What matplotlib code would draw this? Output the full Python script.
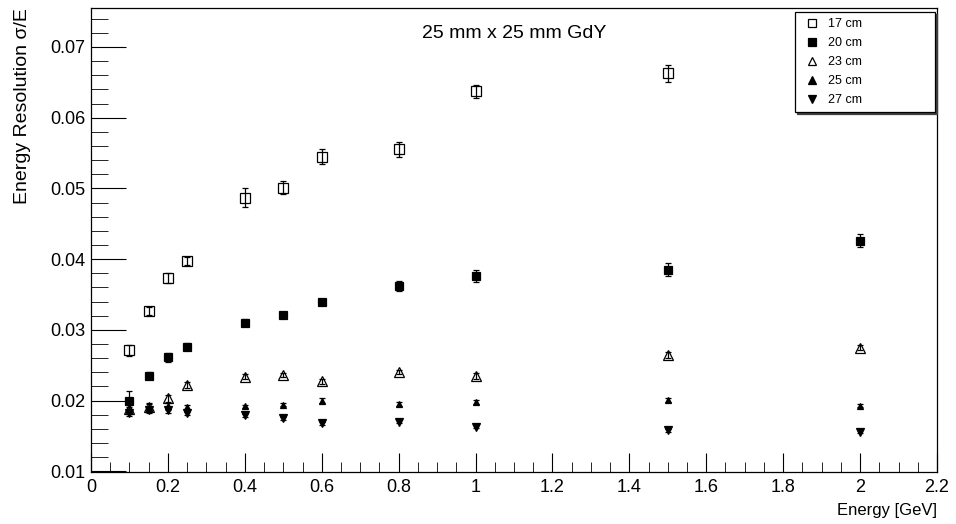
import numpy as np
import matplotlib.pyplot as plt
from matplotlib.ticker import MultipleLocator
from matplotlib.lines import Line2D

plt.rcParams['font.family'] = ['Liberation Sans', 'DejaVu Sans']

energy = [0.1, 0.15, 0.2, 0.25, 0.4, 0.5, 0.6, 0.8, 1.0, 1.5, 2.0]

res_17 = [0.0271, 0.0327, 0.0373, 0.0397, 0.0487, 0.0501, 0.0545, 0.0555, 0.0637, 0.0663]
err_17 = [0.0008, 0.0006, 0.0007, 0.0006, 0.0014, 0.0009, 0.0010, 0.0010, 0.0009, 0.0012]
res_20 = [0.0200, 0.0235, 0.0261, 0.0276, 0.0310, 0.0321, 0.0339, 0.0362, 0.0376, 0.0385, 0.0426]
err_20 = [0.0014, 0.0005, 0.0006, 0.0005, 0.0005, 0.0004, 0.0004, 0.0007, 0.0009, 0.0009, 0.0009]
res_23 = [0.0188, 0.0191, 0.0203, 0.0222, 0.0234, 0.0236, 0.0227, 0.0240, 0.0235, 0.0264, 0.0275]
err_23 = [0.0006, 0.0005, 0.0005, 0.0004, 0.0003, 0.0003, 0.0003, 0.0003, 0.0004, 0.0004, 0.0004]
res_25 = [0.0186, 0.0190, 0.0192, 0.0191, 0.0192, 0.0194, 0.0200, 0.0195, 0.0198, 0.0201, 0.0193]
err_25 = [0.0005, 0.0005, 0.0005, 0.0003, 0.0002, 0.0002, 0.0003, 0.0003, 0.0003, 0.0003, 0.0002]
res_27 = [0.0182, 0.0187, 0.0187, 0.0182, 0.0179, 0.0175, 0.0168, 0.0170, 0.0163, 0.0158, 0.0156]
err_27 = [0.0004, 0.0004, 0.0004, 0.0002, 0.0002, 0.0002, 0.0002, 0.0002, 0.0002, 0.0002, 0.0002]

series = [
    ("17 cm", res_17, err_17, "s", "none", 7),
    ("20 cm", res_20, err_20, "s", "k", 6),
    ("23 cm", res_23, err_23, "^", "none", 6.5),
    ("25 cm", res_25, err_25, "^", "k", 5),
    ("27 cm", res_27, err_27, "v", "k", 6),
]

fig = plt.figure(figsize=(9.56, 5.24), dpi=100)
ax = fig.add_axes([0.0952, 0.0992, 0.8849, 0.8855])

handles = []
for label, y, e, m, fc, ms in series:
    x = energy[:len(y)]
    ax.errorbar(x, y, yerr=e, fmt=m, mfc=fc, mec="k", color="k", ms=ms,
                mew=0.9, elinewidth=0.9, capsize=2, capthick=0.9)
    handles.append(Line2D([], [], ls="none", marker=m, mfc=fc, mec="k",
                          ms=5.5, mew=0.9, label=label))

ax.set_xlim(0, 2.2)
ax.set_ylim(0.0099, 0.0755)
ax.xaxis.set_minor_locator(MultipleLocator(0.05))
ax.yaxis.set_minor_locator(MultipleLocator(0.002))
ax.set_xticks(np.arange(0, 2.21, 0.2))
ax.set_xticklabels(["0", "0.2", "0.4", "0.6", "0.8", "1", "1.2", "1.4", "1.6", "1.8", "2", "2.2"])
ax.set_yticks(np.arange(0.01, 0.071, 0.01))
ax.set_yticklabels(["0.01", "0.02", "0.03", "0.04", "0.05", "0.06", "0.07"])
ax.tick_params(axis="x", which="major", direction="in", length=14, labelsize=13, pad=5)
ax.tick_params(axis="x", which="minor", direction="in", length=7)
ax.tick_params(axis="y", which="major", direction="in", length=25, labelsize=13, pad=4)
ax.tick_params(axis="y", which="minor", direction="in", length=12)
for s in ax.spines.values():
    s.set_linewidth(0.9)

ax.set_xlabel("Energy [GeV]", fontsize=12, loc="right", labelpad=5)
ax.set_ylabel("Energy Resolution σ/E", fontsize=14, loc="top", labelpad=14)
ax.text(0.5, 0.945, "25 mm x 25 mm GdY", transform=ax.transAxes,
        ha="center", va="center", fontsize=14)

leg = ax.legend(handles=handles, loc="upper left",
                bbox_to_anchor=(0.832, 0.778, 0.1656, 0.213), mode="expand",
                fontsize=9, frameon=True, fancybox=False, edgecolor="k",
                borderpad=0.5, labelspacing=0.55, handletextpad=0.4,
                handlelength=1.76, borderaxespad=0,
                shadow={"color": "0.25", "alpha": 1, "ox": 1.5, "oy": -1.5})
leg.get_frame().set_linewidth(0.9)

fig.savefig("out.png", dpi=100)
